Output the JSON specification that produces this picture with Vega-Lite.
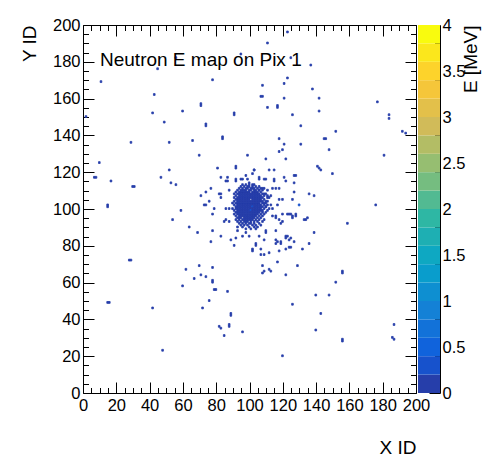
{
"$schema":"https://vega.github.io/schema/vega-lite/v6.json",
"autosize":{"type":"none"},
"padding":{"left":83,"top":25,"right":48,"bottom":63},
"width":357,"height":368,
"title":{"text":"Neutron E map on Pix 1","anchor":"start","orient":"top","frame":"group","offset":0,"baseline":"alphabetic","dx":17,"dy":68,"font":"Liberation Sans","fontSize":19,"fontWeight":"normal","color":"black"},
"config":{"view":{"stroke":null},"font":"Liberation Sans","axis":{"domainColor":"black","tickColor":"black","labelColor":"black","titleColor":"black","grid":false,"labelFont":"Liberation Sans","titleFont":"Liberation Sans","labelFontSize":16.5,"titleFontSize":19,"titleFontWeight":"normal","labelFlush":false,"labelOverlap":false,"labelBound":false,"domainWidth":1,"tickWidth":1}},
"datasets":{
"bands":[{"lo":0,"hi":0.2,"e":0.1},{"lo":0.2,"hi":0.4,"e":0.3},{"lo":0.4,"hi":0.6,"e":0.5},{"lo":0.6,"hi":0.8,"e":0.7},{"lo":0.8,"hi":1.0,"e":0.9},{"lo":1.0,"hi":1.2,"e":1.1},{"lo":1.2,"hi":1.4,"e":1.3},{"lo":1.4,"hi":1.6,"e":1.5},{"lo":1.6,"hi":1.8,"e":1.7},{"lo":1.8,"hi":2.0,"e":1.9},{"lo":2.0,"hi":2.2,"e":2.1},{"lo":2.2,"hi":2.4,"e":2.3},{"lo":2.4,"hi":2.6,"e":2.5},{"lo":2.6,"hi":2.8,"e":2.7},{"lo":2.8,"hi":3.0,"e":2.9},{"lo":3.0,"hi":3.2,"e":3.1},{"lo":3.2,"hi":3.4,"e":3.3},{"lo":3.4,"hi":3.6,"e":3.5},{"lo":3.6,"hi":3.8,"e":3.7},{"lo":3.8,"hi":4.0,"e":3.9}],
"hits":[
{"x":94,"y":184,"e":0.1},{"x":55,"y":182,"e":0.1},{"x":44,"y":176,"e":0.1},{"x":10,"y":169,"e":0.1},{"x":77,"y":170,"e":0.1},{"x":42,"y":162,"e":0.1},{"x":70,"y":157,"e":0.1},{"x":70,"y":156,"e":0.1},{"x":41,"y":152,"e":0.1},{"x":59,"y":153,"e":0.1},{"x":90,"y":152,"e":0.1},{"x":90,"y":151,"e":0.1},{"x":1,"y":150,"e":0.1},{"x":48,"y":147,"e":0.1},{"x":73,"y":146,"e":0.1},{"x":73,"y":145,"e":0.1},{"x":83,"y":139,"e":0.1},{"x":83,"y":138,"e":0.1},{"x":28,"y":136,"e":0.1},{"x":51,"y":136,"e":0.1},{"x":65,"y":137,"e":0.1},{"x":69,"y":129,"e":0.1},{"x":98,"y":129,"e":0.1},{"x":9,"y":125,"e":0.1},{"x":51,"y":121,"e":0.1},{"x":80,"y":122,"e":0.1},{"x":91,"y":122,"e":0.1},{"x":91,"y":123,"e":0.1},{"x":6,"y":117,"e":0.1},{"x":7,"y":117,"e":0.1},{"x":16,"y":115,"e":0.1},{"x":46,"y":117,"e":0.1},{"x":52,"y":114,"e":0.1},{"x":55,"y":113,"e":0.1},{"x":29,"y":112,"e":0.1},{"x":30,"y":112,"e":0.1},{"x":82,"y":117,"e":0.1},{"x":86,"y":115,"e":0.1},{"x":85,"y":115,"e":0.1},{"x":91,"y":116,"e":0.1},{"x":76,"y":111,"e":0.1},{"x":73,"y":109,"e":0.1},{"x":70,"y":107,"e":0.1},{"x":82,"y":108,"e":0.1},{"x":87,"y":110,"e":0.1},{"x":75,"y":104,"e":0.1},{"x":14,"y":102,"e":0.1},{"x":14,"y":101,"e":0.1},{"x":72,"y":102,"e":0.1},{"x":73,"y":102,"e":0.1},
{"x":122,"y":196,"e":0.1},{"x":110,"y":190,"e":0.1},{"x":124,"y":182,"e":0.1},{"x":136,"y":178,"e":0.1},{"x":122,"y":171,"e":0.1},{"x":107,"y":167,"e":0.1},{"x":120,"y":168,"e":0.1},{"x":137,"y":165,"e":0.1},{"x":106,"y":161,"e":0.1},{"x":107,"y":161,"e":0.1},{"x":120,"y":160,"e":0.1},{"x":141,"y":160,"e":0.1},{"x":110,"y":155,"e":0.1},{"x":116,"y":156,"e":0.1},{"x":116,"y":155,"e":0.1},{"x":141,"y":153,"e":0.1},{"x":176,"y":158,"e":0.1},{"x":125,"y":151,"e":0.1},{"x":183,"y":151,"e":0.1},{"x":183,"y":149,"e":0.1},{"x":130,"y":145,"e":0.1},{"x":151,"y":142,"e":0.1},{"x":191,"y":142,"e":0.1},{"x":193,"y":141,"e":0.1},{"x":117,"y":138,"e":0.1},{"x":144,"y":138,"e":0.1},{"x":145,"y":138,"e":0.1},{"x":120,"y":135,"e":0.1},{"x":130,"y":135,"e":0.1},{"x":117,"y":131,"e":0.1},{"x":119,"y":132,"e":0.1},{"x":147,"y":132,"e":0.1},{"x":180,"y":129,"e":0.1},{"x":109,"y":127,"e":0.1},{"x":121,"y":127,"e":0.1},{"x":140,"y":123,"e":0.1},{"x":141,"y":122,"e":0.1},{"x":142,"y":121,"e":0.1},{"x":149,"y":119,"e":0.1},{"x":102,"y":121,"e":0.1},{"x":111,"y":121,"e":0.1},{"x":114,"y":121,"e":0.1},{"x":126,"y":118,"e":0.1},{"x":127,"y":118,"e":0.1},{"x":120,"y":117,"e":0.1},{"x":121,"y":115,"e":0.1},{"x":126,"y":114,"e":0.1},{"x":114,"y":116,"e":0.1},{"x":114,"y":115,"e":0.1},{"x":108,"y":116,"e":0.1},{"x":126,"y":109,"e":0.1},{"x":135,"y":108,"e":0.1},{"x":138,"y":107,"e":0.1},{"x":175,"y":102,"e":0.1},{"x":125,"y":105,"e":0.1},{"x":117,"y":105,"e":0.1},{"x":119,"y":105,"e":0.1},{"x":116,"y":102,"e":0.1},{"x":129,"y":102,"e":0.3},
{"x":78,"y":100,"e":0.1},{"x":58,"y":99,"e":0.1},{"x":77,"y":97,"e":0.1},{"x":53,"y":94,"e":0.1},{"x":63,"y":90,"e":0.1},{"x":68,"y":87,"e":0.1},{"x":77,"y":88,"e":0.1},{"x":76,"y":82,"e":0.1},{"x":82,"y":85,"e":0.1},{"x":88,"y":83,"e":0.1},{"x":91,"y":84,"e":0.1},{"x":90,"y":80,"e":0.1},{"x":95,"y":85,"e":0.1},{"x":85,"y":100,"e":0.1},{"x":87,"y":100,"e":0.1},{"x":84,"y":93,"e":0.1},{"x":85,"y":94,"e":0.1},{"x":27,"y":72,"e":0.1},{"x":28,"y":72,"e":0.1},{"x":61,"y":67,"e":0.1},{"x":69,"y":69,"e":0.1},{"x":77,"y":68,"e":0.1},{"x":66,"y":62,"e":0.1},{"x":70,"y":64,"e":0.1},{"x":73,"y":63,"e":0.1},{"x":77,"y":60,"e":0.1},{"x":77,"y":61,"e":0.1},{"x":59,"y":58,"e":0.1},{"x":78,"y":56,"e":0.1},{"x":79,"y":56,"e":0.1},{"x":86,"y":55,"e":0.1},{"x":75,"y":50,"e":0.1},{"x":14,"y":49,"e":0.1},{"x":15,"y":49,"e":0.1},{"x":41,"y":46,"e":0.1},{"x":71,"y":46,"e":0.1},{"x":88,"y":43,"e":0.1},{"x":88,"y":42,"e":0.1},{"x":81,"y":36,"e":0.1},{"x":82,"y":35,"e":0.1},{"x":87,"y":36,"e":0.1},{"x":87,"y":37,"e":0.1},{"x":84,"y":31,"e":0.1},{"x":95,"y":33,"e":0.1},{"x":47,"y":23,"e":0.1},
{"x":158,"y":92,"e":0.1},{"x":138,"y":87,"e":0.1},{"x":133,"y":94,"e":0.1},{"x":134,"y":95,"e":0.1},{"x":135,"y":81,"e":0.1},{"x":131,"y":78,"e":0.1},{"x":128,"y":69,"e":0.1},{"x":121,"y":64,"e":0.1},{"x":116,"y":71,"e":0.1},{"x":107,"y":69,"e":0.1},{"x":107,"y":65,"e":0.1},{"x":108,"y":66,"e":0.1},{"x":111,"y":67,"e":0.1},{"x":112,"y":66,"e":0.1},{"x":155,"y":66,"e":0.1},{"x":155,"y":65,"e":0.1},{"x":151,"y":60,"e":0.1},{"x":139,"y":53,"e":0.1},{"x":147,"y":53,"e":0.1},{"x":125,"y":48,"e":0.1},{"x":142,"y":43,"e":0.1},{"x":139,"y":34,"e":0.1},{"x":155,"y":29,"e":0.1},{"x":155,"y":28,"e":0.1},{"x":186,"y":37,"e":0.1},{"x":185,"y":30,"e":0.1},{"x":186,"y":29,"e":0.1},{"x":119,"y":20,"e":0.1},{"x":101,"y":78,"e":0.1},{"x":106,"y":78,"e":0.1},{"x":108,"y":75,"e":0.1},{"x":111,"y":76,"e":0.1},{"x":103,"y":80,"e":0.1},{"x":117,"y":77,"e":0.1},{"x":121,"y":78,"e":0.1},{"x":124,"y":79,"e":0.1},{"x":123,"y":83,"e":0.1},{"x":124,"y":84,"e":0.1},{"x":126,"y":82,"e":0.1},{"x":121,"y":85,"e":0.1},{"x":118,"y":81,"e":0.1},{"x":115,"y":83,"e":0.1},{"x":108,"y":83,"e":0.1},{"x":105,"y":85,"e":0.1},{"x":99,"y":85,"e":0.1},{"x":127,"y":96,"e":0.1},{"x":124,"y":97,"e":0.1},{"x":125,"y":95,"e":0.1},{"x":119,"y":97,"e":0.1},{"x":122,"y":97,"e":0.1},{"x":118,"y":92,"e":0.1},{"x":113,"y":100,"e":0.1},{"x":113,"y":96,"e":0.1},{"x":115,"y":96,"e":0.1},{"x":115,"y":88,"e":0.1},{"x":109,"y":88,"e":0.1},{"x":109,"y":87,"e":0.1},
{"x":94,"y":116,"e":0.1},{"x":95,"y":116,"e":0.1},{"x":97,"y":118,"e":0.1},{"x":101,"y":119,"e":0.1},{"x":102,"y":121,"e":0.1},{"x":91,"y":115,"e":0.1},{"x":98,"y":116,"e":0.1},{"x":99,"y":114,"e":0.1},{"x":95,"y":113,"e":0.1},{"x":97,"y":113,"e":0.1},{"x":99,"y":113,"e":0.1},{"x":101,"y":113,"e":0.1},{"x":102,"y":113,"e":0.1},{"x":81,"y":108,"e":0.1},{"x":90,"y":108,"e":0.1},{"x":82,"y":106,"e":0.1},{"x":89,"y":103,"e":0.1},{"x":86,"y":117,"e":0.1},
{"x":105,"y":116,"e":0.1},{"x":105,"y":117,"e":0.1},{"x":109,"y":116,"e":0.1},{"x":105,"y":110,"e":0.1},{"x":107,"y":111,"e":0.1},{"x":110,"y":110,"e":0.1},{"x":113,"y":111,"e":0.1},{"x":115,"y":111,"e":0.1},{"x":117,"y":111,"e":0.1},{"x":108,"y":108,"e":0.1},{"x":110,"y":107,"e":0.1},{"x":112,"y":107,"e":0.1},{"x":109,"y":103,"e":0.1},{"x":110,"y":104,"e":0.1},{"x":111,"y":106,"e":0.1},{"x":109,"y":101,"e":0.1},{"x":110,"y":99,"e":0.1},{"x":112,"y":102,"e":0.1},
{"x":87,"y":93,"e":0.1},{"x":92,"y":88,"e":0.1},{"x":97,"y":87,"e":0.1},{"x":101,"y":77,"e":0.1},
{"x":115,"y":95,"e":0.1},{"x":117,"y":94,"e":0.1},{"x":119,"y":93,"e":0.1},{"x":123,"y":97,"e":0.1},{"x":125,"y":96,"e":0.1},{"x":127,"y":97,"e":0.1},{"x":132,"y":94,"e":0.1},{"x":121,"y":84,"e":0.1},{"x":122,"y":85,"e":0.1},{"x":115,"y":81,"e":0.1},{"x":116,"y":82,"e":0.1},{"x":118,"y":82,"e":0.1},{"x":123,"y":79,"e":0.1},{"x":106,"y":75,"e":0.1},{"x":103,"y":81,"e":0.1},
{"x":94,"y":112,"e":0.1},{"x":96,"y":112,"e":0.1},{"x":98,"y":112,"e":0.1},{"x":99,"y":112,"e":0.1},{"x":101,"y":112,"e":0.1},{"x":103,"y":112,"e":0.1},{"x":105,"y":112,"e":0.1},
{"x":93,"y":111,"e":0.1},{"x":95,"y":111,"e":0.1},{"x":97,"y":111,"e":0.1},{"x":98,"y":111,"e":0.1},{"x":100,"y":111,"e":0.1},{"x":101,"y":111,"e":0.1},{"x":102,"y":111,"e":0.1},{"x":104,"y":111,"e":0.1},{"x":106,"y":111,"e":0.1},{"x":108,"y":111,"e":0.1},
{"x":92,"y":110,"e":0.1},{"x":94,"y":110,"e":0.1},{"x":95,"y":110,"e":0.1},{"x":96,"y":110,"e":0.1},{"x":97,"y":110,"e":0.1},{"x":99,"y":110,"e":0.1},{"x":100,"y":110,"e":0.1},{"x":102,"y":110,"e":0.1},{"x":103,"y":110,"e":0.1},{"x":105,"y":110,"e":0.1},{"x":107,"y":110,"e":0.1},
{"x":91,"y":109,"e":0.1},{"x":93,"y":109,"e":0.1},{"x":94,"y":109,"e":0.1},{"x":95,"y":109,"e":0.1},{"x":96,"y":109,"e":0.1},{"x":97,"y":109,"e":0.1},{"x":98,"y":109,"e":0.1},{"x":99,"y":109,"e":0.1},{"x":101,"y":109,"e":0.1},{"x":102,"y":109,"e":0.1},{"x":103,"y":109,"e":0.1},{"x":104,"y":109,"e":0.1},{"x":106,"y":109,"e":0.1},
{"x":92,"y":108,"e":0.1},{"x":93,"y":108,"e":0.1},{"x":94,"y":108,"e":0.1},{"x":95,"y":108,"e":0.1},{"x":96,"y":108,"e":0.1},{"x":97,"y":108,"e":0.1},{"x":98,"y":108,"e":0.1},{"x":99,"y":108,"e":0.1},{"x":100,"y":108,"e":0.1},{"x":101,"y":108,"e":0.1},{"x":102,"y":108,"e":0.1},{"x":103,"y":108,"e":0.1},{"x":104,"y":108,"e":0.1},{"x":105,"y":108,"e":0.1},{"x":107,"y":108,"e":0.1},{"x":109,"y":108,"e":0.1},
{"x":91,"y":107,"e":0.1},{"x":93,"y":107,"e":0.1},{"x":94,"y":107,"e":0.1},{"x":95,"y":107,"e":0.1},{"x":96,"y":107,"e":0.1},{"x":97,"y":107,"e":0.1},{"x":98,"y":107,"e":0.1},{"x":99,"y":107,"e":0.1},{"x":100,"y":107,"e":0.1},{"x":101,"y":107,"e":0.1},{"x":102,"y":107,"e":0.1},{"x":103,"y":107,"e":0.1},{"x":104,"y":107,"e":0.1},{"x":105,"y":107,"e":0.1},{"x":106,"y":107,"e":0.1},{"x":108,"y":107,"e":0.1},
{"x":90,"y":106,"e":0.1},{"x":92,"y":106,"e":0.1},{"x":93,"y":106,"e":0.1},{"x":94,"y":106,"e":0.1},{"x":95,"y":106,"e":0.1},{"x":96,"y":106,"e":0.1},{"x":97,"y":106,"e":0.1},{"x":98,"y":106,"e":0.1},{"x":99,"y":106,"e":0.1},{"x":100,"y":106,"e":0.1},{"x":101,"y":106,"e":0.1},{"x":102,"y":106,"e":0.1},{"x":103,"y":106,"e":0.1},{"x":104,"y":106,"e":0.1},{"x":105,"y":106,"e":0.1},{"x":106,"y":106,"e":0.1},{"x":107,"y":106,"e":0.1},{"x":110,"y":106,"e":0.1},
{"x":91,"y":105,"e":0.1},{"x":92,"y":105,"e":0.1},{"x":93,"y":105,"e":0.1},{"x":94,"y":105,"e":0.1},{"x":95,"y":105,"e":0.1},{"x":96,"y":105,"e":0.1},{"x":97,"y":105,"e":0.1},{"x":98,"y":105,"e":0.1},{"x":99,"y":105,"e":0.1},{"x":101,"y":105,"e":0.1},{"x":102,"y":105,"e":0.1},{"x":103,"y":105,"e":0.1},{"x":104,"y":105,"e":0.1},{"x":105,"y":105,"e":0.1},{"x":106,"y":105,"e":0.1},{"x":108,"y":105,"e":0.1},
{"x":90,"y":104,"e":0.1},{"x":92,"y":104,"e":0.1},{"x":93,"y":104,"e":0.1},{"x":94,"y":104,"e":0.1},{"x":95,"y":104,"e":0.1},{"x":96,"y":104,"e":0.1},{"x":97,"y":104,"e":0.1},{"x":98,"y":104,"e":0.1},{"x":99,"y":104,"e":0.1},{"x":100,"y":104,"e":0.1},{"x":101,"y":104,"e":0.1},{"x":102,"y":104,"e":0.1},{"x":103,"y":104,"e":0.1},{"x":104,"y":104,"e":0.1},{"x":105,"y":104,"e":0.1},{"x":106,"y":104,"e":0.1},{"x":107,"y":104,"e":0.1},{"x":109,"y":104,"e":0.1},
{"x":91,"y":103,"e":0.1},{"x":92,"y":103,"e":0.1},{"x":93,"y":103,"e":0.1},{"x":94,"y":103,"e":0.1},{"x":95,"y":103,"e":0.1},{"x":96,"y":103,"e":0.1},{"x":97,"y":103,"e":0.1},{"x":98,"y":103,"e":0.1},{"x":99,"y":103,"e":0.1},{"x":100,"y":103,"e":0.1},{"x":101,"y":103,"e":0.1},{"x":102,"y":103,"e":0.1},{"x":103,"y":103,"e":0.1},{"x":104,"y":103,"e":0.1},{"x":105,"y":103,"e":0.1},{"x":107,"y":103,"e":0.1},{"x":108,"y":103,"e":0.1},
{"x":90,"y":102,"e":0.1},{"x":92,"y":102,"e":0.1},{"x":93,"y":102,"e":0.1},{"x":94,"y":102,"e":0.1},{"x":95,"y":102,"e":0.1},{"x":96,"y":102,"e":0.1},{"x":97,"y":102,"e":0.1},{"x":98,"y":102,"e":0.1},{"x":99,"y":102,"e":0.1},{"x":100,"y":102,"e":0.1},{"x":101,"y":102,"e":0.1},{"x":102,"y":102,"e":0.1},{"x":103,"y":102,"e":0.1},{"x":104,"y":102,"e":0.1},{"x":105,"y":102,"e":0.1},{"x":106,"y":102,"e":0.1},{"x":108,"y":102,"e":0.1},{"x":110,"y":102,"e":0.1},
{"x":91,"y":101,"e":0.1},{"x":92,"y":101,"e":0.1},{"x":93,"y":101,"e":0.1},{"x":94,"y":101,"e":0.1},{"x":95,"y":101,"e":0.1},{"x":96,"y":101,"e":0.1},{"x":97,"y":101,"e":0.1},{"x":98,"y":101,"e":0.1},{"x":99,"y":101,"e":0.1},{"x":100,"y":101,"e":0.1},{"x":101,"y":101,"e":0.25},{"x":102,"y":101,"e":0.1},{"x":103,"y":101,"e":0.1},{"x":104,"y":101,"e":0.1},{"x":105,"y":101,"e":0.1},{"x":106,"y":101,"e":0.1},{"x":107,"y":101,"e":0.1},{"x":109,"y":101,"e":0.1},
{"x":89,"y":100,"e":0.1},{"x":91,"y":100,"e":0.1},{"x":92,"y":100,"e":0.1},{"x":93,"y":100,"e":0.1},{"x":94,"y":100,"e":0.1},{"x":95,"y":100,"e":0.1},{"x":96,"y":100,"e":0.1},{"x":97,"y":100,"e":0.1},{"x":98,"y":100,"e":0.1},{"x":99,"y":100,"e":0.1},{"x":100,"y":100,"e":0.1},{"x":101,"y":100,"e":0.1},{"x":102,"y":100,"e":0.1},{"x":103,"y":100,"e":0.1},{"x":104,"y":100,"e":0.1},{"x":105,"y":100,"e":0.1},{"x":106,"y":100,"e":0.1},{"x":108,"y":100,"e":0.1},{"x":111,"y":100,"e":0.1},
{"x":90,"y":99,"e":0.1},{"x":92,"y":99,"e":0.1},{"x":93,"y":99,"e":0.1},{"x":94,"y":99,"e":0.1},{"x":95,"y":99,"e":0.1},{"x":96,"y":99,"e":0.1},{"x":97,"y":99,"e":0.1},{"x":98,"y":99,"e":0.1},{"x":99,"y":99,"e":0.1},{"x":100,"y":99,"e":0.3},{"x":101,"y":99,"e":0.1},{"x":102,"y":99,"e":0.1},{"x":103,"y":99,"e":0.1},{"x":104,"y":99,"e":0.1},{"x":105,"y":99,"e":0.1},{"x":106,"y":99,"e":0.1},{"x":107,"y":99,"e":0.1},
{"x":91,"y":98,"e":0.1},{"x":92,"y":98,"e":0.1},{"x":93,"y":98,"e":0.1},{"x":94,"y":98,"e":0.1},{"x":95,"y":98,"e":0.1},{"x":96,"y":98,"e":0.1},{"x":97,"y":98,"e":0.1},{"x":98,"y":98,"e":0.1},{"x":99,"y":98,"e":0.1},{"x":100,"y":98,"e":0.1},{"x":101,"y":98,"e":0.1},{"x":102,"y":98,"e":0.1},{"x":103,"y":98,"e":0.1},{"x":104,"y":98,"e":0.1},{"x":105,"y":98,"e":0.1},{"x":107,"y":98,"e":0.1},{"x":109,"y":98,"e":0.1},
{"x":90,"y":97,"e":0.1},{"x":92,"y":97,"e":0.1},{"x":93,"y":97,"e":0.1},{"x":94,"y":97,"e":0.1},{"x":95,"y":97,"e":0.1},{"x":96,"y":97,"e":0.1},{"x":97,"y":97,"e":0.1},{"x":98,"y":97,"e":0.1},{"x":99,"y":97,"e":0.1},{"x":100,"y":97,"e":0.1},{"x":101,"y":97,"e":0.1},{"x":102,"y":97,"e":0.1},{"x":103,"y":97,"e":0.1},{"x":104,"y":97,"e":0.1},{"x":106,"y":97,"e":0.1},{"x":108,"y":97,"e":0.1},
{"x":91,"y":96,"e":0.1},{"x":93,"y":96,"e":0.1},{"x":94,"y":96,"e":0.1},{"x":95,"y":96,"e":0.1},{"x":96,"y":96,"e":0.1},{"x":97,"y":96,"e":0.1},{"x":98,"y":96,"e":0.1},{"x":99,"y":96,"e":0.1},{"x":100,"y":96,"e":0.1},{"x":101,"y":96,"e":0.1},{"x":102,"y":96,"e":0.1},{"x":103,"y":96,"e":0.1},{"x":105,"y":96,"e":0.1},{"x":107,"y":96,"e":0.1},
{"x":92,"y":95,"e":0.1},{"x":93,"y":95,"e":0.1},{"x":94,"y":95,"e":0.1},{"x":96,"y":95,"e":0.1},{"x":97,"y":95,"e":0.1},{"x":98,"y":95,"e":0.1},{"x":99,"y":95,"e":0.1},{"x":100,"y":95,"e":0.1},{"x":101,"y":95,"e":0.1},{"x":102,"y":95,"e":0.1},{"x":104,"y":95,"e":0.1},{"x":106,"y":95,"e":0.1},
{"x":91,"y":94,"e":0.1},{"x":93,"y":94,"e":0.1},{"x":95,"y":94,"e":0.1},{"x":96,"y":94,"e":0.1},{"x":97,"y":94,"e":0.1},{"x":98,"y":94,"e":0.1},{"x":99,"y":94,"e":0.1},{"x":100,"y":94,"e":0.1},{"x":101,"y":94,"e":0.1},{"x":103,"y":94,"e":0.1},{"x":105,"y":94,"e":0.1},{"x":108,"y":94,"e":0.1},
{"x":92,"y":93,"e":0.1},{"x":94,"y":93,"e":0.1},{"x":96,"y":93,"e":0.1},{"x":97,"y":93,"e":0.1},{"x":98,"y":93,"e":0.1},{"x":100,"y":93,"e":0.1},{"x":102,"y":93,"e":0.1},{"x":104,"y":93,"e":0.1},{"x":107,"y":93,"e":0.1},
{"x":93,"y":92,"e":0.1},{"x":95,"y":92,"e":0.1},{"x":97,"y":92,"e":0.1},{"x":99,"y":92,"e":0.1},{"x":100,"y":92,"e":0.1},{"x":102,"y":92,"e":0.1},{"x":105,"y":92,"e":0.1},
{"x":94,"y":91,"e":0.1},{"x":96,"y":91,"e":0.1},{"x":98,"y":91,"e":0.1},{"x":101,"y":91,"e":0.1},{"x":103,"y":91,"e":0.1},{"x":106,"y":91,"e":0.1},
{"x":92,"y":90,"e":0.1},{"x":95,"y":90,"e":0.1},{"x":99,"y":90,"e":0.1},{"x":102,"y":90,"e":0.1},{"x":104,"y":90,"e":0.1},
{"x":97,"y":89,"e":0.1},{"x":100,"y":89,"e":0.1},{"x":103,"y":89,"e":0.1}
]},
"layer":[
{"data":{"name":"hits"},"mark":{"type":"rect","strokeWidth":0.8},
 "encoding":{
  "x":{"field":"x","type":"quantitative","bin":{"binned":true,"step":1},"scale":{"domain":[0,200],"range":[0,333],"nice":false,"zero":false},
       "axis":{"orient":"bottom","values":[0,20,40,60,80,100,120,140,160,180,200],"format":"d","tickSize":-11,"labelPadding":15,"title":"X ID","titleX":333,"titleY":60,"titleAlign":"right","titleBaseline":"alphabetic","titleAnchor":"end"}},
  "y":{"field":"y","type":"quantitative","bin":{"binned":true,"step":1},"scale":{"domain":[0,200],"nice":false,"zero":false},
       "axis":{"orient":"left","values":[0,20,40,60,80,100,120,140,160,180,200],"format":"d","tickSize":-11,"labelPadding":14,"title":"Y ID","titleX":-48,"titleY":0,"titleAngle":-90,"titleAlign":"right","titleBaseline":"alphabetic","titleAnchor":"end"}},
  "color":{"field":"e","type":"quantitative","scale":{"type":"quantize","domain":[0,4],"nice":false,"range":["#263EAA","#1752CC","#1063DC","#1272D9","#1481D6","#0E8FD1","#099DCC","#0EA8C2","#1EAFB3","#2EB7A4","#52BA92","#75BD80","#96BE71","#B3BD65","#D1BB59","#E3C04A","#F5C63A","#FDD32B","#FBE71C","#F9FB0E"]},"legend":null},
  "stroke":{"field":"e","type":"quantitative","scale":{"type":"quantize","domain":[0,4],"nice":false,"range":["#263EAA","#1752CC","#1063DC","#1272D9","#1481D6","#0E8FD1","#099DCC","#0EA8C2","#1EAFB3","#2EB7A4","#52BA92","#75BD80","#96BE71","#B3BD65","#D1BB59","#E3C04A","#F5C63A","#FDD32B","#FBE71C","#F9FB0E"]},"legend":null}
 }},
{"data":{"name":"hits"},"mark":{"type":"point","opacity":0},
 "encoding":{
  "x":{"field":"x","type":"quantitative","scale":{"domain":[0,200],"range":[0,333],"nice":false,"zero":false},"axis":{"orient":"top","values":[0,20,40,60,80,100,120,140,160,180,200],"tickSize":-11,"labels":false,"title":null}},
  "y":{"field":"y","type":"quantitative","scale":{"domain":[0,200],"nice":false,"zero":false},"axis":{"orient":"right","values":[0,20,40,60,80,100,120,140,160,180,200],"tickSize":-11,"labels":false,"title":null,"offset":-24}}
 }},
{"data":{"name":"hits"},"mark":{"type":"point","opacity":0},
 "encoding":{
  "x":{"field":"x","type":"quantitative","scale":{"domain":[0,200],"range":[0,333],"nice":false,"zero":false},"axis":{"orient":"bottom","values":[5,10,15,25,30,35,45,50,55,65,70,75,85,90,95,105,110,115,125,130,135,145,150,155,165,170,175,185,190,195],"tickSize":-5.5,"labels":false,"domain":false,"title":null}},
  "y":{"field":"y","type":"quantitative","scale":{"domain":[0,200],"nice":false,"zero":false},"axis":{"orient":"left","values":[5,10,15,25,30,35,45,50,55,65,70,75,85,90,95,105,110,115,125,130,135,145,150,155,165,170,175,185,190,195],"tickSize":-5.5,"labels":false,"domain":false,"title":null}}
 }},
{"data":{"name":"hits"},"mark":{"type":"point","opacity":0},
 "encoding":{
  "x":{"field":"x","type":"quantitative","scale":{"domain":[0,200],"range":[0,333],"nice":false,"zero":false},"axis":{"orient":"top","values":[5,10,15,25,30,35,45,50,55,65,70,75,85,90,95,105,110,115,125,130,135,145,150,155,165,170,175,185,190,195],"tickSize":-5.5,"labels":false,"domain":false,"title":null}},
  "y":{"field":"y","type":"quantitative","scale":{"domain":[0,200],"nice":false,"zero":false},"axis":{"orient":"right","values":[5,10,15,25,30,35,45,50,55,65,70,75,85,90,95,105,110,115,125,130,135,145,150,155,165,170,175,185,190,195],"tickSize":-5.5,"labels":false,"domain":false,"title":null,"offset":-24}}
 }},
{"data":{"name":"bands"},"mark":{"type":"rect"},
 "encoding":{
  "x":{"datum":0,"type":"quantitative","scale":{"domain":[0,1],"range":[335,357],"nice":false,"zero":false},"axis":null},
  "x2":{"datum":1},
  "y":{"field":"lo","type":"quantitative","scale":{"domain":[0,4],"nice":false,"zero":false},
       "axis":{"orient":"right","values":[0,0.5,1,1.5,2,2.5,3,3.5,4],"format":"~g","tickSize":-11,"labelPadding":13,"title":"E [MeV]","titleX":36.5,"titleY":0,"titleAngle":-90,"titleAlign":"right","titleBaseline":"alphabetic","titleAnchor":"end"}},
  "y2":{"field":"hi"},
  "color":{"field":"e","type":"quantitative","scale":{"type":"quantize","domain":[0,4],"nice":false,"range":["#263EAA","#1752CC","#1063DC","#1272D9","#1481D6","#0E8FD1","#099DCC","#0EA8C2","#1EAFB3","#2EB7A4","#52BA92","#75BD80","#96BE71","#B3BD65","#D1BB59","#E3C04A","#F5C63A","#FDD32B","#FBE71C","#F9FB0E"]},"legend":null}
 }},
{"data":{"name":"bands"},"mark":{"type":"point","opacity":0},
 "encoding":{
  "x":{"datum":0.5,"type":"quantitative","scale":{"domain":[0,1],"range":[335,357],"nice":false,"zero":false},"axis":null},
  "y":{"field":"lo","type":"quantitative","scale":{"domain":[0,4],"nice":false,"zero":false},
       "axis":{"orient":"right","values":[0.1,0.2,0.3,0.4,0.6,0.7,0.8,0.9,1.1,1.2,1.3,1.4,1.6,1.7,1.8,1.9,2.1,2.2,2.3,2.4,2.6,2.7,2.8,2.9,3.1,3.2,3.3,3.4,3.6,3.7,3.8,3.9],"tickSize":-5.5,"labels":false,"domain":false,"title":null}}
 }}
],
"resolve":{"scale":{"x":"independent","y":"independent"},"axis":{"x":"independent","y":"independent"}}
}
